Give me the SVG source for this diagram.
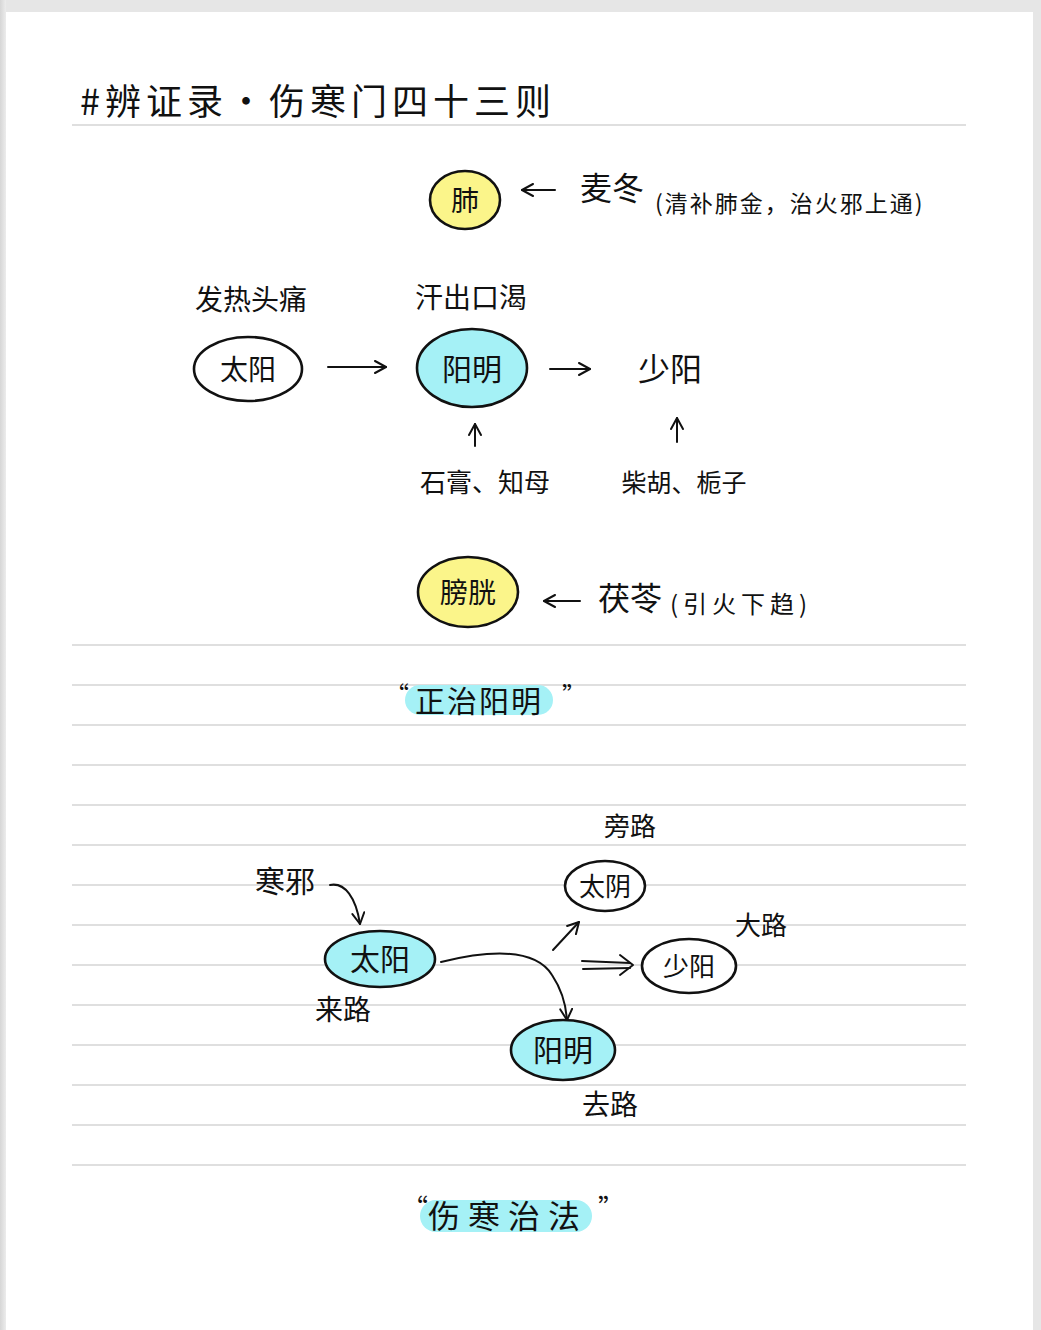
<svg xmlns="http://www.w3.org/2000/svg" width="1041" height="1330" viewBox="0 0 1041 1330">
<defs>
<style>
.t{font-family:"Noto Sans CJK SC","Noto Sans",sans-serif;fill:#111;}
.rule{stroke:#d4d4d4;stroke-width:1.5;}
.node{stroke:#111;stroke-width:2.6;}
.yel{fill:#fbf58a;}
.cyan{fill:#a5f1f6;}
.wht{fill:#fff;}
.ln{fill:none;stroke:#111;stroke-width:2;stroke-linecap:round;stroke-linejoin:round;}
.hl{fill:#a5f1f6;}
</style>
<marker id="ah" viewBox="0 0 14 14" refX="12" refY="7" markerWidth="14" markerHeight="14" markerUnits="userSpaceOnUse" orient="auto">
<path d="M1,1 L12,7 L1,13" fill="none" stroke="#111" stroke-width="2" stroke-linecap="round" stroke-linejoin="round"/>
</marker>
<linearGradient id="lg" x1="0" x2="1" y1="0" y2="0"><stop offset="0" stop-color="#d6d6d6"/><stop offset="1" stop-color="#ececec"/></linearGradient>
</defs>
<rect x="0" y="0" width="1041" height="1330" fill="#e6e6e6"/>
<rect x="0" y="0" width="6" height="1330" fill="url(#lg)"/>
<rect x="6" y="12" width="1027" height="1318" fill="#ffffff"/>
<g id="rules">
<line class="rule" x1="72" y1="125" x2="966" y2="125"/>
<line class="rule" x1="72" y1="645" x2="966" y2="645"/>
<line class="rule" x1="72" y1="685" x2="966" y2="685"/>
<line class="rule" x1="72" y1="725" x2="966" y2="725"/>
<line class="rule" x1="72" y1="765" x2="966" y2="765"/>
<line class="rule" x1="72" y1="805" x2="966" y2="805"/>
<line class="rule" x1="72" y1="845" x2="966" y2="845"/>
<line class="rule" x1="72" y1="885" x2="966" y2="885"/>
<line class="rule" x1="72" y1="925" x2="966" y2="925"/>
<line class="rule" x1="72" y1="965" x2="966" y2="965"/>
<line class="rule" x1="72" y1="1005" x2="966" y2="1005"/>
<line class="rule" x1="72" y1="1045" x2="966" y2="1045"/>
<line class="rule" x1="72" y1="1085" x2="966" y2="1085"/>
<line class="rule" x1="72" y1="1125" x2="966" y2="1125"/>
<line class="rule" x1="72" y1="1165" x2="966" y2="1165"/>
</g>
<g id="title"><text class="t" x="80" y="115" font-size="36" letter-spacing="5">#辨证录·伤寒门四十三则</text></g>

<g id="connectors">
<line class="ln" x1="555" y1="190" x2="522" y2="190" marker-end="url(#ah)"/>
<line class="ln" x1="328" y1="367" x2="386" y2="367" marker-end="url(#ah)"/>
<line class="ln" x1="550" y1="369" x2="590" y2="369" marker-end="url(#ah)"/>
<line class="ln" x1="475" y1="446" x2="475" y2="424" marker-end="url(#ah)"/>
<line class="ln" x1="677" y1="442" x2="677" y2="418" marker-end="url(#ah)"/>
<line class="ln" x1="580" y1="601" x2="544" y2="601" marker-end="url(#ah)"/>
<path class="ln" d="M330,885 C345,882 356,898 360,924" marker-end="url(#ah)"/>
<path class="ln" d="M441,962 C490,950 535,948 552,975 C562,990 566,1005 567,1020" marker-end="url(#ah)"/>
<line class="ln" x1="553" y1="950" x2="579" y2="922" marker-end="url(#ah)"/>
<line class="ln" x1="582" y1="961" x2="630" y2="963"/>
<line class="ln" x1="583" y1="969" x2="630" y2="968"/>
<path class="ln" d="M620,955 L633,965 L620,975"/>
</g>

<g id="n-fei"><ellipse class="node yel" cx="465" cy="200" rx="35" ry="29"/><text class="t" x="465" y="211" font-size="28" text-anchor="middle">肺</text></g>
<g id="l-maidong"><text class="t" x="580" y="200" font-size="32">麦冬</text><text class="t" x="655" y="212" font-size="23" letter-spacing="2">(清补肺金，治火邪上通)</text></g>

<g id="l-fare"><text class="t" x="195" y="310" font-size="28">发热头痛</text></g>
<g id="n-taiyang1"><ellipse class="node wht" cx="248" cy="369" rx="54" ry="32"/><text class="t" x="248" y="380" font-size="28" text-anchor="middle">太阳</text></g>
<g id="l-hanchu"><text class="t" x="415" y="308" font-size="28">汗出口渴</text></g>
<g id="n-yangming1"><ellipse class="node cyan" cx="472" cy="368" rx="55" ry="39"/><text class="t" x="472" y="380" font-size="30" text-anchor="middle">阳明</text></g>
<g id="n-shaoyang1"><text class="t" x="670" y="381" font-size="32" text-anchor="middle">少阳</text></g>
<g id="l-shigao"><text class="t" x="485" y="492" font-size="26" text-anchor="middle">石膏、知母</text></g>
<g id="l-chaihu"><text class="t" x="684" y="492" font-size="25" text-anchor="middle">柴胡、栀子</text></g>

<g id="n-pangguang"><ellipse class="node yel" cx="468" cy="592" rx="50" ry="35"/><text class="t" x="468" y="603" font-size="28" text-anchor="middle">膀胱</text></g>
<g id="l-fuling"><text class="t" x="598" y="610" font-size="32">茯苓</text><text class="t" x="670" y="613" font-size="24" letter-spacing="5">(引火下趋)</text></g>

<g id="l-zhengzhi"><rect class="hl" x="405" y="685" width="148" height="30" rx="15"/><text class="t" x="479" y="712" font-size="30" text-anchor="middle" letter-spacing="2">正治阳明</text><text class="t" x="385" y="704" font-size="24">“</text><text class="t" x="562" y="704" font-size="24">”</text></g>

<g id="l-hanxie"><text class="t" x="255" y="892" font-size="30">寒邪</text></g>
<g id="n-taiyang2"><ellipse class="node cyan" cx="380" cy="959" rx="55" ry="28"/><text class="t" x="380" y="970" font-size="30" text-anchor="middle">太阳</text></g>
<g id="l-lailu"><text class="t" x="315" y="1020" font-size="28">来路</text></g>
<g id="n-yangming2"><ellipse class="node cyan" cx="563" cy="1050" rx="52" ry="30"/><text class="t" x="563" y="1061" font-size="30" text-anchor="middle">阳明</text></g>
<g id="l-qulu"><text class="t" x="582" y="1115" font-size="28">去路</text></g>
<g id="n-taiyin"><ellipse class="node wht" cx="605" cy="886" rx="40" ry="25"/><text class="t" x="605" y="896" font-size="26" text-anchor="middle">太阴</text></g>
<g id="l-panglu"><text class="t" x="604" y="836" font-size="26">旁路</text></g>
<g id="n-shaoyang2"><ellipse class="node wht" cx="689" cy="966" rx="47" ry="27"/><text class="t" x="689" y="976" font-size="26" text-anchor="middle">少阳</text></g>
<g id="l-dalu"><text class="t" x="735" y="935" font-size="26">大路</text></g>

<g id="l-shanghan"><rect class="hl" x="420" y="1200" width="172" height="32" rx="16"/><text class="t" x="508" y="1228" font-size="32" text-anchor="middle" letter-spacing="8">伤寒治法</text><text class="t" x="402" y="1218" font-size="26">“</text><text class="t" x="598" y="1218" font-size="26">”</text></g>
</svg>
